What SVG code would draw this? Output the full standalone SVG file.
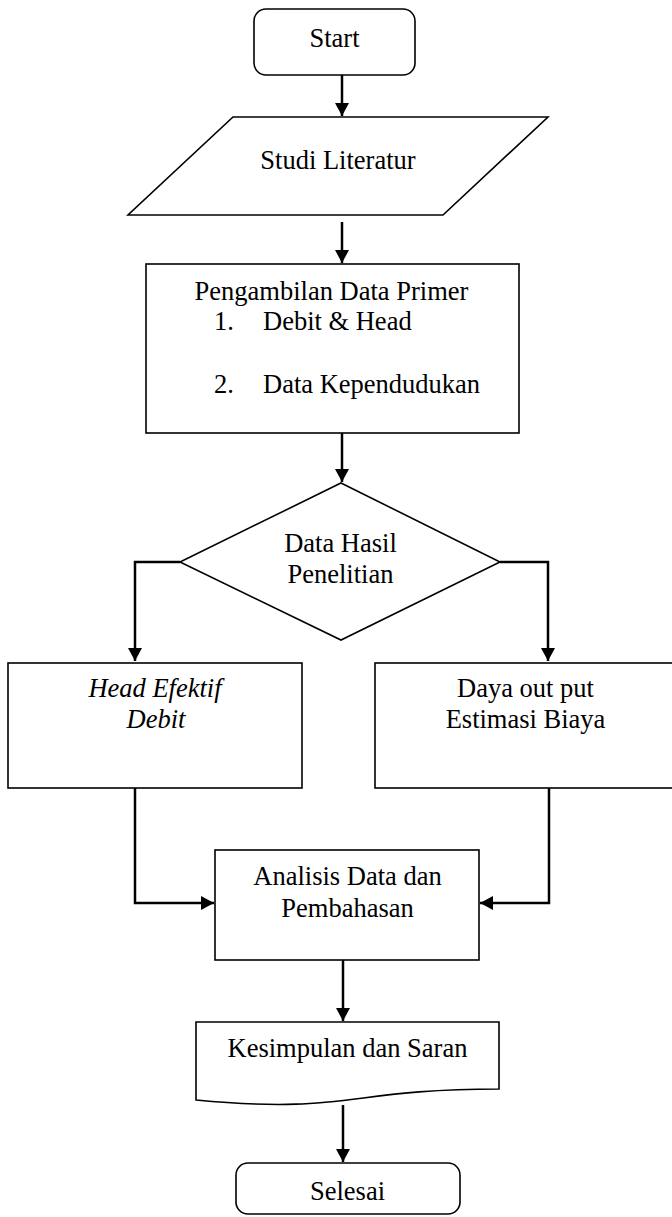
<svg xmlns="http://www.w3.org/2000/svg" width="672" height="1217" viewBox="0 0 672 1217">
<style>
.s{fill:#fff;stroke:#000;stroke-width:1.6}
.c{fill:none;stroke:#000;stroke-width:2.5}
text{font-family:"Liberation Serif","Times New Roman",serif;font-size:26.5px;fill:#000}
.m{text-anchor:middle}
.i{font-style:italic}
</style>
<defs>
<marker id="a" markerWidth="15" markerHeight="14" refX="13" refY="7" orient="auto" markerUnits="userSpaceOnUse">
<path d="M0,0 L13,7 L0,14 Z" fill="#000"/>
</marker>
</defs>
<rect width="672" height="1217" fill="#fff"/>
<g id="connectors">
<path class="c" d="M342,75 V116" marker-end="url(#a)"/>
<path class="c" d="M342,222 V263" marker-end="url(#a)"/>
<path class="c" d="M342,433 V482" marker-end="url(#a)"/>
<path class="c" d="M180,562 H135 V661" marker-end="url(#a)"/>
<path class="c" d="M500,562 H548 V661" marker-end="url(#a)"/>
<path class="c" d="M135,788 V903 H214" marker-end="url(#a)"/>
<path class="c" d="M549,788 V903 H480" marker-end="url(#a)"/>
<path class="c" d="M343,960 V1021" marker-end="url(#a)"/>
<path class="c" d="M343,1105 V1162" marker-end="url(#a)"/>
</g>
<g id="start">
<rect class="s" x="254" y="9" width="161" height="66" rx="12"/>
<text class="m" x="334.5" y="47">Start</text>
</g>
<g id="studi">
<polygon class="s" points="233,117 548,117 443,215 128,215"/>
<text class="m" x="338" y="169">Studi Literatur</text>
</g>
<g id="pengambilan">
<rect class="s" x="146" y="264" width="373" height="169"/>
<text class="m" x="331.5" y="300">Pengambilan Data Primer</text>
<text x="214" y="330">1.</text>
<text x="263" y="330">Debit &amp; Head</text>
<text x="214" y="393">2.</text>
<text x="263" y="393">Data Kependudukan</text>
</g>
<g id="decision">
<polygon class="s" points="341,483 500,562 341,640 180,562"/>
<text class="m" x="340.5" y="552">Data Hasil</text>
<text class="m" x="340.5" y="583">Penelitian</text>
</g>
<g id="head">
<rect class="s" x="8" y="663" width="294" height="125"/>
<text class="m i" x="155" y="697">Head Efektif</text>
<text class="m i" x="156" y="728">Debit</text>
</g>
<g id="daya">
<rect class="s" x="375" y="663" width="302" height="125"/>
<text class="m" x="525.5" y="697">Daya out put</text>
<text class="m" x="525.5" y="728">Estimasi Biaya</text>
</g>
<g id="analisis">
<rect class="s" x="215" y="850" width="264" height="110"/>
<text class="m" x="347.5" y="885">Analisis Data dan</text>
<text class="m" x="347.5" y="917">Pembahasan</text>
</g>
<g id="kesimpulan">
<path class="s" d="M196,1022 H499 V1089 C347.5,1089 347.5,1114.5 196,1100 Z"/>
<text class="m" x="347.5" y="1057">Kesimpulan dan Saran</text>
</g>
<g id="selesai">
<rect class="s" x="236" y="1163" width="224" height="51" rx="12"/>
<text class="m" x="347.5" y="1200">Selesai</text>
</g>
</svg>
